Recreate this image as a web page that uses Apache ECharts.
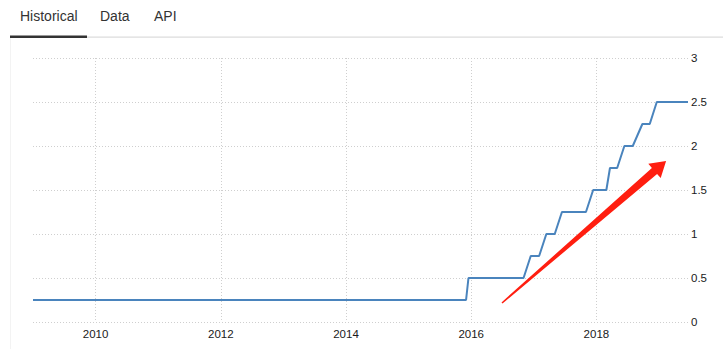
<!DOCTYPE html>
<html><head><meta charset="utf-8">
<script src="https://cdn.jsdelivr.net/npm/echarts@6/dist/echarts.min.js"></script>
<style>html,body{margin:0;padding:0;background:#fff}#c{width:723px;height:349px}</style>
</head><body><div id="c"></div>
<script>
const tabLabels = ['Historical', 'Data', 'API'];
const dates = [
  '2009-01-01','2009-01-28','2009-03-18','2009-04-29','2009-06-24','2009-08-12','2009-09-23','2009-11-04','2009-12-16',
  '2010-01-27','2010-03-16','2010-04-28','2010-06-23','2010-08-10','2010-09-21','2010-11-03','2010-12-14',
  '2011-01-26','2011-03-15','2011-04-27','2011-06-22','2011-08-09','2011-09-21','2011-11-02','2011-12-13',
  '2012-01-25','2012-03-13','2012-04-25','2012-06-20','2012-08-01','2012-09-13','2012-10-24','2012-12-12',
  '2013-01-30','2013-03-20','2013-05-01','2013-06-19','2013-07-31','2013-09-18','2013-10-30','2013-12-18',
  '2014-01-29','2014-03-19','2014-04-30','2014-06-18','2014-07-30','2014-09-17','2014-10-29','2014-12-17',
  '2015-01-28','2015-03-18','2015-04-29','2015-06-17','2015-07-29','2015-09-17','2015-10-28','2015-12-02','2015-12-16',
  '2016-01-27','2016-03-16','2016-04-27','2016-06-15','2016-07-27','2016-09-21','2016-11-02','2016-12-14',
  '2017-02-01','2017-03-15','2017-05-03','2017-06-14','2017-07-26','2017-09-20','2017-11-01','2017-12-13',
  '2018-02-28','2018-03-21','2018-05-02','2018-06-13','2018-08-01','2018-09-26','2018-11-08','2018-12-19',
  '2019-01-30','2019-03-20','2019-05-01','2019-06-19'
];
const rates = [
  0.25,0.25,0.25,0.25,0.25,0.25,0.25,0.25,0.25,
  0.25,0.25,0.25,0.25,0.25,0.25,0.25,0.25,
  0.25,0.25,0.25,0.25,0.25,0.25,0.25,0.25,
  0.25,0.25,0.25,0.25,0.25,0.25,0.25,0.25,
  0.25,0.25,0.25,0.25,0.25,0.25,0.25,0.25,
  0.25,0.25,0.25,0.25,0.25,0.25,0.25,0.25,
  0.25,0.25,0.25,0.25,0.25,0.25,0.25,0.25,0.5,
  0.5,0.5,0.5,0.5,0.5,0.5,0.5,0.75,
  0.75,1.0,1.0,1.25,1.25,1.25,1.25,1.5,
  1.5,1.75,1.75,2.0,2.0,2.25,2.25,2.5,
  2.5,2.5,2.5,2.5
];
const yMin = 0, yMax = 3, yStep = 0.5;

function toYear(s) {
  const p = s.split('-').map(Number);
  const a = Date.UTC(p[0], 0, 1), b = Date.UTC(p[0] + 1, 0, 1);
  return p[0] + (Date.UTC(p[0], p[1] - 1, p[2]) - a) / (b - a);
}
const seriesData = dates.map((d, i) => [toYear(d), rates[i]]);

const chart = echarts.init(document.getElementById('c'), null, { renderer: 'svg' });
const gridColor = '#cfcfcf';
const labelFont = { color: '#1a1a1a', fontSize: 11.5, fontFamily: 'Liberation Sans, Arial, sans-serif' };

chart.setOption({
  animation: false,
  backgroundColor: '#fff',
  grid: { left: 33, right: 35, top: 58, bottom: 27, containLabel: false },
  xAxis: {
    type: 'value', min: 'dataMin', max: 'dataMax',
    axisLine: { show: false }, axisTick: { show: false },
    axisLabel: Object.assign({ margin: 6, showMinLabel: false, showMaxLabel: false, formatter: v => String(v) }, labelFont),
    splitLine: { show: true, showMinLine: false, showMaxLine: false, lineStyle: { color: gridColor, type: [1, 2], width: 1 } }
  },
  yAxis: {
    type: 'value', position: 'right', min: yMin, max: yMax, interval: yStep,
    axisLine: { show: false }, axisTick: { show: false },
    axisLabel: Object.assign({ margin: 3, formatter: v => String(v) }, labelFont),
    splitLine: { show: true, lineStyle: { color: gridColor, type: [1, 2], width: 1 } }
  },
  series: [{
    type: 'line', data: seriesData, showSymbol: false, symbol: 'none',
    lineStyle: { color: '#4a84bd', width: 2 }, silent: true
  }],
  graphic: [
    { type: 'text', left: 20, top: 9, style: { text: tabLabels[0], fill: '#333', font: '14px Liberation Sans, Arial, sans-serif' } },
    { type: 'text', left: 100, top: 9, style: { text: tabLabels[1], fill: '#333', font: '14px Liberation Sans, Arial, sans-serif' } },
    { type: 'text', left: 154, top: 9, style: { text: tabLabels[2], fill: '#333', font: '14px Liberation Sans, Arial, sans-serif' } },
    { type: 'rect', shape: { x: 87, y: 36.5, width: 636, height: 1.2 }, style: { fill: '#dcdcdc' } },
    { type: 'rect', shape: { x: 10, y: 35.5, width: 77, height: 2.5 }, style: { fill: '#333' } },
    { type: 'rect', shape: { x: 10, y: 38, width: 1, height: 311 }, style: { fill: '#f3f3f3' } },
    { type: 'polygon', z: 100, shape: { points: [
        [502.5, 303.6], [657.1, 173.9], [660.7, 178.1], [666.1, 160.9],
        [648.3, 163.7], [651.9, 167.9], [501.5, 302.4]
      ] }, style: { fill: '#ff1e10' } }
  ]
});
</script></body></html>
